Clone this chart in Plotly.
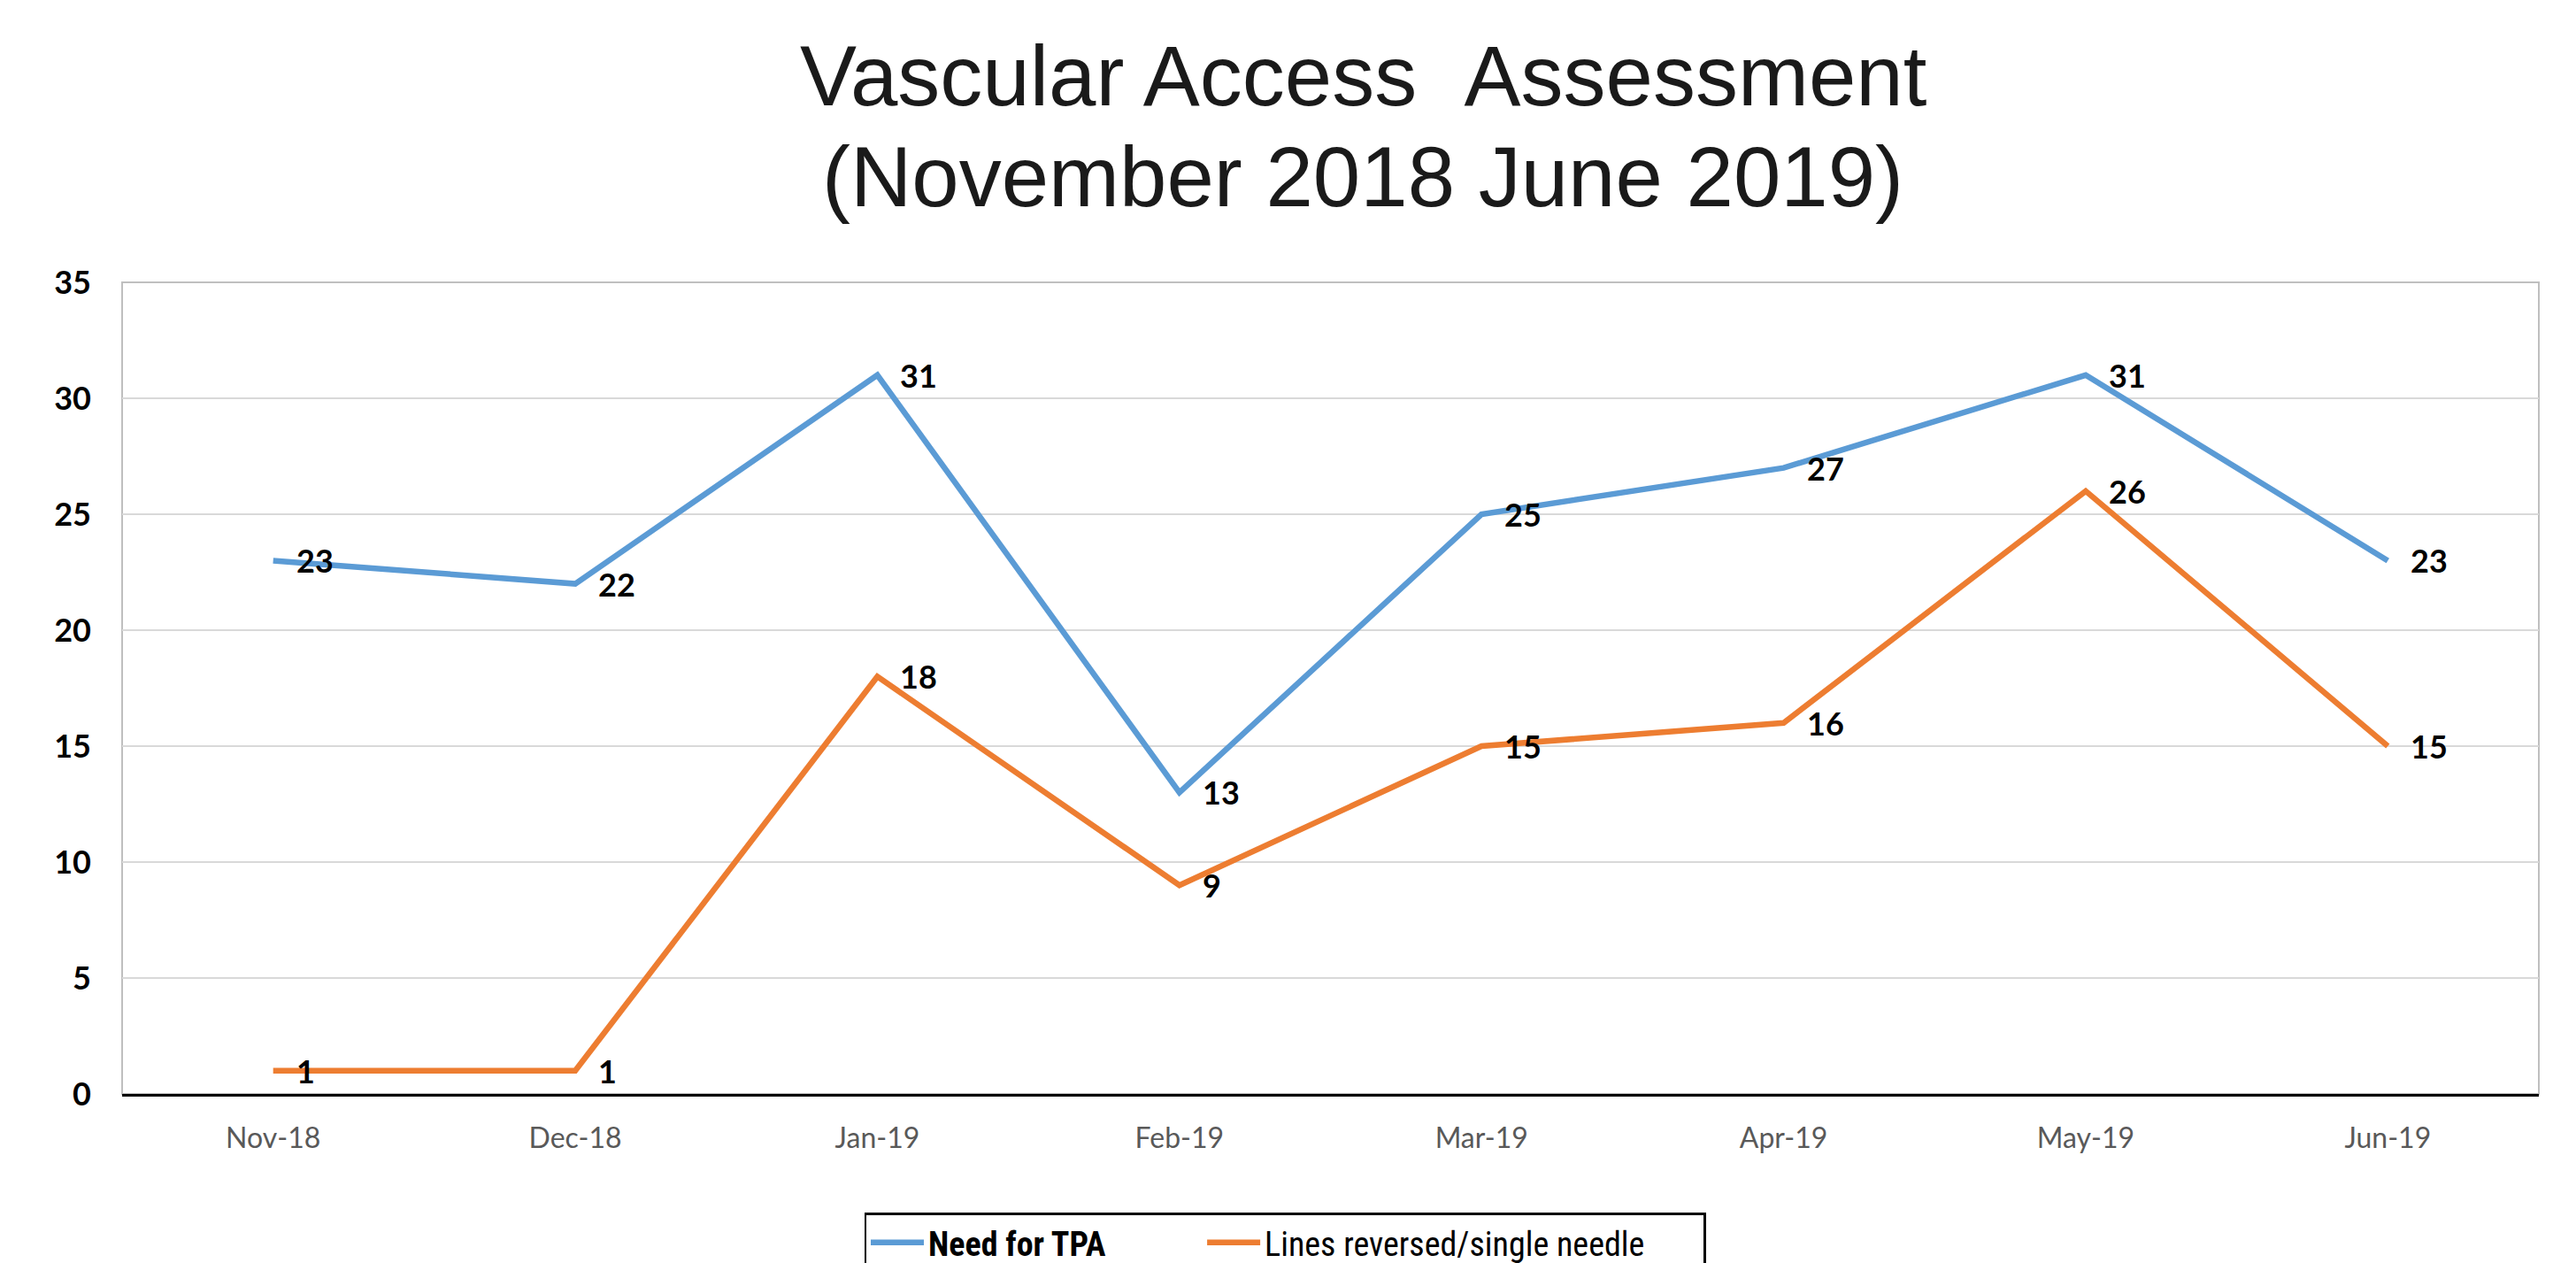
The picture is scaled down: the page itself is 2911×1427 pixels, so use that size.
import plotly.graph_objects as go

categories = ["Nov-18", "Dec-18", "Jan-19", "Feb-19", "Mar-19", "Apr-19", "May-19", "Jun-19"]
need_tpa = [23, 22, 31, 13, 25, 27, 31, 23]
lines_reversed = [1, 1, 18, 9, 15, 16, 26, 15]
series_names = ["<b>Need for TPA</b>" + "\u00a0" * 12, "Lines reversed/single needle" + "\u00a0" * 7]
series_colors = ["#5B9BD5", "#ED7D31"]
y_ticks = [0, 5, 10, 15, 20, 25, 30, 35]
title_lines = ["Vascular Access \u00a0Assessment", "(November 2018 June 2019)"]

W, H = 2911, 1427
L, R, T, B = 138, 42, 319, 191
PW, PH = W - L - R, H - T - B


def px_to_paper_y(py):
    return (H - B - py) / PH


def px_to_paper_x(px):
    return (px - L) / PW


fig = go.Figure()
for name, vals, col in zip(series_names, [need_tpa, lines_reversed], series_colors):
    fig.add_trace(go.Scatter(
        x=categories, y=vals, name=name, mode="lines",
        line=dict(color=col, width=6.5),
        cliponaxis=False,
    ))

annotations = []
for vals in [need_tpa, lines_reversed]:
    for c, v in zip(categories, vals):
        annotations.append(dict(
            x=c, y=v, xref="x", yref="y", text=f"<b>{v}</b>", showarrow=False,
            xanchor="left", yanchor="middle", xshift=24,
            font=dict(family="Lato, Carlito, sans-serif", size=36, color="#000000"),
        ))

for txt, cy in zip(title_lines, [86, 200]):
    annotations.append(dict(
        x=px_to_paper_x(1540), y=px_to_paper_y(cy), xref="paper", yref="paper",
        text=txt, showarrow=False, xanchor="center", yanchor="middle",
        font=dict(family="Liberation Sans, Arial, sans-serif", size=96, color="#1a1a1a"),
    ))

fig.update_layout(
    width=W, height=H,
    margin=dict(l=L, r=R, t=T, b=B, pad=0, autoexpand=False),
    paper_bgcolor="white", plot_bgcolor="white",
    showlegend=True,
    legend=dict(
        orientation="h", x=1452 / W, xanchor="center", xref="container",
        y=1 - 1370 / H, yanchor="top", yref="container",
        bordercolor="#000000", borderwidth=2.5, bgcolor="white",
        font=dict(family="Liberation Sans Narrow, Roboto Condensed, Lato, sans-serif", size=38, color="#000000"),
        itemwidth=60,
    ),
    annotations=annotations,
    shapes=[dict(type="rect", xref="paper", yref="paper", x0=0, x1=1, y0=0, y1=1,
                 line=dict(color="#BFBFBF", width=2), layer="below")],
    xaxis=dict(
        type="category", range=[-0.5, len(categories) - 0.5],
        showgrid=False, zeroline=False, automargin=False,
        showline=True, linecolor="#000000", linewidth=2.5,
        ticks="", ticklabelstandoff=20,
        tickfont=dict(family="Lato, Carlito, sans-serif", size=32, color="#595959"),
    ),
    yaxis=dict(
        range=[0, 35], tickvals=y_ticks, showgrid=True, gridcolor="#D9D9D9", gridwidth=2,
        zeroline=False, showline=False, ticks="", ticklabelstandoff=34, automargin=False,
        tickfont=dict(family="Lato, Carlito, sans-serif", size=36, color="#000000", weight="bold"),
    ),
)

fig.write_html(
    "out.html",
    config={"displayModeBar": False},
    post_script="document.body.style.margin='0';document.body.style.overflow='hidden';",
)
